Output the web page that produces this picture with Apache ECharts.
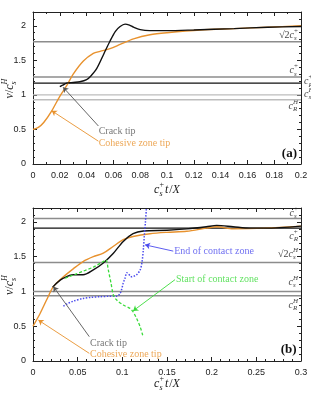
<!DOCTYPE html>
<html><head><meta charset="utf-8">
<script src="https://cdn.jsdelivr.net/npm/echarts@6/dist/echarts.min.js"></script>
<style>html,body{margin:0;padding:0;background:#fff}#c{width:311px;height:393px}</style>
</head><body><div id="c"></div>
<script>
// ---------- Panel (a) data ----------
const crackA_x = [0.020,0.022,0.025,0.030,0.035,0.040,0.043,0.0475,0.0530,0.0575,0.0615,0.065,0.0687,0.072,0.075,0.080,0.087,0.100,0.120,0.150,0.175,0.200];
const crackA_y = [1.12,1.14,1.17,1.18,1.19,1.22,1.27,1.38,1.60,1.78,1.92,1.99,2.025,2.01,1.98,1.945,1.93,1.93,1.94,1.96,1.98,1.99];
const cohA_x = [0,0.004,0.008,0.014,0.020,0.025,0.030,0.0376,0.045,0.050,0.0575,0.065,0.075,0.0873,0.100,0.125,0.150,0.175,0.200];
const cohA_y = [0.50,0.53,0.60,0.77,0.98,1.13,1.30,1.49,1.60,1.63,1.67,1.73,1.81,1.87,1.90,1.94,1.96,1.98,2.00];
const refA = [1.77, 1.26, 1.17, 1.00, 0.93];          // √2c_s^+, c_s^+, c_R^+, c_s^H, c_R^H
const refA_style = ['g','g','k','l','l'];

// ---------- Panel (b) data ----------
const crackB_x = [0.022,0.0265,0.034,0.045,0.056,0.0675,0.0787,0.090,0.101,0.112,0.1235,0.150,0.172,0.194,0.2056,0.224,0.243,0.260,0.300];
const crackB_y = [1.06,1.12,1.19,1.24,1.24,1.31,1.41,1.55,1.72,1.83,1.87,1.88,1.90,1.93,1.95,1.93,1.91,1.91,1.94];
const cohB_x = [0,0.0078,0.0153,0.0228,0.034,0.045,0.056,0.0675,0.0787,0.090,0.101,0.112,0.131,0.150,0.172,0.194,0.2056,0.224,0.260,0.300];
const cohB_y = [0.50,0.68,0.88,1.07,1.21,1.325,1.43,1.50,1.55,1.65,1.745,1.79,1.83,1.85,1.865,1.91,1.93,1.90,1.91,1.94];
const endB_x = [0.034,0.038,0.045,0.056,0.065,0.075,0.085,0.0937,0.097,0.099,0.101,0.103,0.105,0.107,0.109,0.1105,0.113,0.116,0.120,0.122,0.1235,0.1245,0.1258,0.127];
const endB_y = [0.79,0.82,0.86,0.90,0.915,0.925,0.93,0.93,0.96,1.02,1.12,1.19,1.27,1.25,1.22,1.21,1.22,1.24,1.31,1.42,1.60,1.78,1.99,2.20];
const startB_x = [0.036,0.040,0.048,0.056,0.0675,0.0787,0.0817,0.0843,0.0873,0.090,0.0937,0.101,0.1086,0.112,0.116,0.120,0.1228];
const startB_y = [1.19,1.21,1.25,1.29,1.35,1.43,1.455,1.31,1.12,0.95,0.877,0.805,0.757,0.708,0.61,0.49,0.37];
const refB = [2.05, 1.91, 1.417, 1.00, 0.94];          // c_s^+, c_R^+, √2c_s^H, c_s^H, c_R^H
const refB_style = ['g','k','g','g','g'];

// annotation pointers [fromX, fromY, toX, toY] and text anchors [x, y]
const ptrA_crack = [0.0225, 1.11, 0.0488, 0.55];
const ptrA_coh   = [0.014, 0.77, 0.0488, 0.33];
const ptrB_crack = [0.0228, 1.07, 0.063, 0.35];
const ptrB_coh   = [0.006, 0.588, 0.063, 0.11];
const ptrB_end   = [0.1254, 1.67, 0.157, 1.58];
const ptrB_start = [0.112, 0.72, 0.159, 1.17];
const txtA_crack = [0.049, 0.47];
const txtA_coh   = [0.049, 0.30];
const txtB_crack = [0.0638, 0.26];
const txtB_coh   = [0.0638, 0.096];
const txtB_end   = [0.158, 1.576];
const txtB_start = [0.160, 1.176];

const zip = (a,b) => a.map((v,i)=>[v,b[i]]);
const SERIF = '"Liberation Serif","DejaVu Serif",serif';
const SANS = '"Liberation Sans",Arial,sans-serif';
const ORANGE = '#E8922E', BLUE = '#4B4BEE', GREEN = '#3ADB3A', GREYP = '#555';

function xAx(grid, max, interval, minor, pos, labels){
  return {type:'value', gridIndex:grid, min:0, max:max, interval:interval, position:pos,
    axisLine:{show:true, onZero:false, lineStyle:{color:'#222', width:1}},
    axisTick:{show:true, inside:true, length:4, lineStyle:{color:'#222'}},
    minorTick:{show:true, splitNumber:minor, length:2, lineStyle:{color:'#222'}},
    axisLabel:{show:labels, margin:7, fontSize:9, color:'#222', fontFamily:SANS,
      formatter: v => String(+v.toFixed(3))},
    splitLine:{show:false}, minorSplitLine:{show:false}};
}
function yAx(grid, pos, labels){
  return {type:'value', gridIndex:grid, min:0, max:2.2, interval:0.5, position:pos,
    axisLine:{show:true, onZero:false, lineStyle:{color:'#222', width:1}},
    axisTick:{show:true, inside:true, length:4, lineStyle:{color:'#222'}},
    minorTick:{show:true, splitNumber:5, length:2, lineStyle:{color:'#222'}},
    axisLabel:{show:labels, showMaxLabel:false, margin:7, fontSize:9, color:'#222', fontFamily:SANS,
      formatter: v => String(+v.toFixed(2))},
    splitLine:{show:false}, minorSplitLine:{show:false}};
}

const refColor = {g:'#8c8c8c', k:'#111', l:'#bdbdbd'};
const refWidth = {g:1.5, k:1.2, l:1.3};

const series = [];
function refSeries(vals, styles, max, gi){
  vals.forEach((v,i)=>{
    series.push({type:'line', xAxisIndex:gi*2, yAxisIndex:gi*2, data:[[0,v],[max,v]], showSymbol:false, silent:true,
      lineStyle:{color:refColor[styles[i]], width:refWidth[styles[i]]}, z:1});
  });
}
function curve(xs, ys, gi, color, width, type){
  series.push({type:'line', xAxisIndex:gi*2, yAxisIndex:gi*2, data:zip(xs,ys), showSymbol:false, smooth:0.3, silent:true,
    lineStyle:{color:color, width:width, type:type||'solid'}, z:3});
}
function pointer(p, gi, color){
  series.push({type:'lines', coordinateSystem:'cartesian2d', xAxisIndex:gi*2, yAxisIndex:gi*2,
    data:[{coords:[[p[0],p[1]],[p[2],p[3]]]}], symbol:['arrow','none'], symbolSize:5, silent:true,
    lineStyle:{color:color, width:0.9, opacity:1}, z:4});
}
function label(text, p, gi, color){
  series.push({type:'scatter', xAxisIndex:gi*2, yAxisIndex:gi*2, symbolSize:0, silent:true,
    data:[{value:[p[0],p[1]], name:text}],
    label:{show:true, position:'right', distance:0, formatter:'{b}', color:color, fontSize:10, fontFamily:SERIF}, z:5});
}

refSeries(refA, refA_style, 0.2, 0);
refSeries(refB, refB_style, 0.3, 1);
curve(cohA_x, cohA_y, 0, ORANGE, 1.4);
curve(crackA_x, crackA_y, 0, '#111', 1.4);
curve(cohB_x, cohB_y, 1, ORANGE, 1.4);
curve(crackB_x, crackB_y, 1, '#111', 1.4);
curve(endB_x, endB_y, 1, BLUE, 1.5, [1.5,1.5]);
curve(startB_x, startB_y, 1, GREEN, 1.3, [3,2]);
pointer(ptrA_crack, 0, GREYP); label('Crack tip', txtA_crack, 0, GREYP);
pointer(ptrA_coh, 0, ORANGE);  label('Cohesive zone tip', txtA_coh, 0, ORANGE);
pointer(ptrB_crack, 1, GREYP); label('Crack tip', txtB_crack, 1, GREYP);
pointer(ptrB_coh, 1, ORANGE);  label('Cohesive zone tip', txtB_coh, 1, ORANGE);
pointer(ptrB_end, 1, BLUE);    label('End of contact zone', txtB_end, 1, BLUE);
pointer(ptrB_start, 1, GREEN); label('Start of contact zone', txtB_start, 1, GREEN);

const chart = echarts.init(document.getElementById('c'), null, {renderer:'canvas'});
chart.setOption({
  animation:false,
  grid:[{left:33, top:12, width:268, height:152}, {left:33, top:208, width:268, height:153}],
  xAxis:[xAx(0,0.2,0.02,2,'bottom',true), xAx(0,0.2,0.02,2,'top',false),
         xAx(1,0.3,0.05,5,'bottom',true), xAx(1,0.3,0.05,5,'top',false)],
  yAxis:[yAx(0,'left',true), yAx(0,'right',false), yAx(1,'left',true), yAx(1,'right',false)],
  series: series
});

// ---------- math labels ----------
const mctx = document.createElement('canvas').getContext('2d');
function tw(t, f){ mctx.font = f; return mctx.measureText(t).width; }
function mathGroup(tokens, fs, color, px, py, align, rot){
  let x = 0; const els = [];
  for (const k of tokens){
    if (k.t !== undefined){
      const f = (k.it ? 'italic ' : '') + fs + 'px ' + SERIF;
      els.push({type:'text', x:x, y:0, style:{text:k.t, font:f, fill:color, align:'left', verticalAlign:'middle', textAlign:'left', textVerticalAlign:'middle'}});
      x += tw(k.t, f) + (k.sp || 0);
    } else {
      const sfs = Math.round(fs*0.68); let w = 0;
      if (k.sup){ const f = (k.supIt===false?'':'italic ') + sfs + 'px ' + SERIF;
        els.push({type:'text', x:x, y:-fs*0.42, style:{text:k.sup, font:f, fill:color, align:'left', verticalAlign:'middle', textAlign:'left', textVerticalAlign:'middle'}});
        w = Math.max(w, tw(k.sup, f)); }
      if (k.sub){ const f = 'italic ' + sfs + 'px ' + SERIF;
        els.push({type:'text', x:x, y:fs*0.3, style:{text:k.sub, font:f, fill:color, align:'left', verticalAlign:'middle', textAlign:'left', textVerticalAlign:'middle'}});
        w = Math.max(w, tw(k.sub, f)); }
      x += w + 1;
    }
  }
  const shift = align === 'right' ? -x : (align === 'center' ? -x/2 : 0);
  els.forEach(e => e.x += shift);
  return {type:'group', x:px, y:py, rotation:rot||0, children:els};
}
const P = (gi, x, y) => chart.convertToPixel({gridIndex:gi}, [x, y]);
const g = [];
const cs = (sup) => [{t:'c', it:true}, {sub:'s', sup:sup, supIt: sup!=='+'}];
const cR = (sup) => [{t:'c', it:true}, {sub:'R', sup:sup, supIt: sup!=='+'}];
const sq = [{t:'√2', it:false}];
const rightX = P(0, 0.2, 0)[0] - 2;
// panel a right labels
g.push(mathGroup(sq.concat(cs('+')), 10, '#444', rightX, P(0,0,1.865)[1], 'right'));
g.push(mathGroup(cs('+'), 10, '#444', rightX, P(0,0,1.35)[1], 'right'));
g.push(mathGroup(cR('+'), 10, '#444', rightX + 5, P(0,0,1.19)[1], 'left'));
g.push(mathGroup(cs('H'), 10, '#444', rightX + 5, P(0,0,1.01)[1], 'left'));
g.push(mathGroup(cR('H'), 10, '#444', rightX, P(0,0,0.83)[1], 'right'));
// panel b right labels
g.push(mathGroup(cs('+'), 10, '#444', rightX, P(1,0,2.12)[1], 'right'));
g.push(mathGroup(cR('+'), 10, '#444', rightX, P(1,0,1.79)[1], 'right'));
g.push(mathGroup(sq.concat(cs('H')), 10, '#444', rightX, P(1,0,1.53)[1], 'right'));
g.push(mathGroup(cs('H'), 10, '#444', rightX, P(1,0,1.13)[1], 'right'));
g.push(mathGroup(cR('H'), 10, '#444', rightX, P(1,0,0.80)[1], 'right'));
// axis titles
const xt = [{t:'c', it:true}, {sub:'s', sup:'+', supIt:false}, {t:'t', it:true, sp:1}, {t:'/', it:false}, {t:'X', it:true}];
const yt = [{t:'v', it:true}, {t:'/', it:false}, {t:'c', it:true}, {sub:'s', sup:'H'}];
g.push(mathGroup(xt, 12, '#222', P(0,0.1,0)[0], P(0,0,0)[1] + 26, 'center'));
g.push(mathGroup(xt, 12, '#222', P(1,0.15,0)[0], P(1,0,0)[1] + 23, 'center'));
g.push(mathGroup(yt, 12, '#222', 10, P(0,0,1.1)[1], 'center', Math.PI/2));
g.push(mathGroup(yt, 12, '#222', 10, P(1,0,1.1)[1], 'center', Math.PI/2));
// panel tags
g.push({type:'text', x:P(0,0.197,0)[0], y:P(0,0,0.15)[1], style:{text:'(a)', font:'bold 13px '+SERIF, fill:'#111', align:'right', verticalAlign:'middle', textAlign:'right', textVerticalAlign:'middle'}});
g.push({type:'text', x:P(1,0.295,0)[0], y:P(1,0,0.17)[1], style:{text:'(b)', font:'bold 13px '+SERIF, fill:'#111', align:'right', verticalAlign:'middle', textAlign:'right', textVerticalAlign:'middle'}});
chart.setOption({graphic: g});
</script></body></html>
